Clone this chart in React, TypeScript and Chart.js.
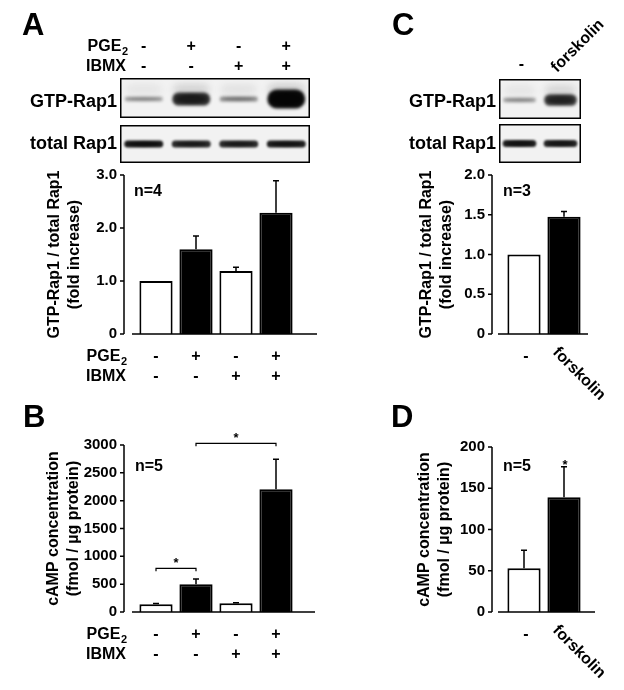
import React, { useEffect, useRef } from "react";
import { Chart, registerables } from "chart.js";

Chart.register(...registerables);

const FONT = '"Liberation Sans", Arial, Helvetica, sans-serif';

// ---------------- data ----------------
// Panel A : GTP-Rap1 / total Rap1 (fold increase)
const aPGE2 = ["-", "+", "-", "+"];
const aIBMX = ["-", "-", "+", "+"];
const aValues = [1.0, 1.6, 1.19, 2.29];
const aErrors = [0, 0.25, 0.07, 0.6];
const aYTicks = [0, 1, 2, 3];
const aN = "n=4";

// Panel B : cAMP concentration (fmol / µg protein)
const bPGE2 = ["-", "+", "-", "+"];
const bIBMX = ["-", "-", "+", "+"];
const bValues = [138, 497, 156, 2204];
const bErrors = [15, 96, 10, 540];
const bYTicks = [0, 500, 1000, 1500, 2000, 2500, 3000];
const bSigPairs = [[0, 1], [1, 3]];
const bSigLevels = [785, 3030];
const bN = "n=5";

// Panel C : GTP-Rap1 / total Rap1, forskolin
const cLabels = ["-", "forskolin"];
const cValues = [1.0, 1.476];
const cErrors = [0, 0.065];
const cYTicks = [0, 0.5, 1.0, 1.5, 2.0];
const cN = "n=3";

// Panel D : cAMP, forskolin
const dLabels = ["-", "forskolin"];
const dValues = [53, 139];
const dErrors = [22, 37];
const dYTicks = [0, 50, 100, 150, 200];
const dSig = [false, true];
const dN = "n=5";

// Western blot band intensities (0..1)
const aGtpBands = [0.35, 0.85, 0.42, 1.0];
const aTotalBands = [0.92, 0.85, 0.85, 0.9];
const cGtpBands = [0.35, 0.8];
const cTotalBands = [0.9, 0.88];

// ---------------- helpers ----------------
function subLabel(ctx: CanvasRenderingContext2D, main: string, sub: string, right: number, cy: number) {
  ctx.save();
  ctx.textBaseline = "middle";
  ctx.font = `bold 11px ${FONT}`;
  const sw = ctx.measureText(sub).width;
  ctx.textAlign = "left";
  ctx.fillText(sub, right - sw, cy + 5);
  ctx.font = `bold 16px ${FONT}`;
  ctx.textAlign = "right";
  ctx.fillText(main, right - sw - 0.5, cy);
  ctx.restore();
}

function drawBand(ctx: CanvasRenderingContext2D, cx: number, cy: number, w: number, h: number, a: number, blur: number) {
  ctx.save();
  ctx.filter = `blur(${blur}px)`;
  ctx.fillStyle = `rgba(10,10,10,${a})`;
  ctx.beginPath();
  (ctx as any).roundRect(cx - w / 2, cy - h / 2, w, h, h / 2);
  ctx.fill();
  ctx.fillStyle = `rgba(0,0,0,${a * 0.5})`;
  ctx.beginPath();
  ctx.ellipse(cx, cy, w * 0.4, h * 0.32, 0, 0, Math.PI * 2);
  ctx.fill();
  ctx.restore();
}

function drawBlot(ctx: CanvasRenderingContext2D, x: number, y: number, w: number, h: number, bands: number[], gtp: boolean) {
  ctx.save();
  ctx.fillStyle = "#f2f2f2";
  ctx.fillRect(x, y, w, h);
  ctx.beginPath();
  ctx.rect(x, y, w, h);
  ctx.clip();
  const lane = w / bands.length;
  bands.forEach((a, i) => {
    const cx = x + lane * (i + 0.5);
    if (gtp) {
      drawBand(ctx, cx, y + h * 0.28, lane * 0.8, h * 0.3, a * 0.1, 3);
      drawBand(ctx, cx, y + h * 0.5 + 1, lane * 0.8, 4 + 15 * a * a * a, a, 1.8);
    } else {
      drawBand(ctx, cx, y + h * 0.5, lane * 0.82, 7, a, 1.2);
    }
  });
  ctx.restore();
  ctx.strokeStyle = "#000";
  ctx.lineWidth = 1.5;
  ctx.strokeRect(x + 0.75, y + 0.75, w - 1.5, h - 1.5);
}

function drawDecorations(canvas: HTMLCanvasElement) {
  const ctx = canvas.getContext("2d")!;
  ctx.clearRect(0, 0, canvas.width, canvas.height);
  ctx.fillStyle = "#000";
  ctx.textBaseline = "alphabetic";
  ctx.textAlign = "left";
  ctx.font = `bold 31px ${FONT}`;
  ctx.fillText("A", 22, 35);
  ctx.fillText("B", 23, 427);
  ctx.fillText("C", 392, 35);
  ctx.fillText("D", 391, 427);

  // Panel A header
  const aBox = { x: 120, w: 190 };
  const aLane = aBox.w / aPGE2.length;
  subLabel(ctx, "PGE", "2", 128, 47);
  ctx.font = `bold 16px ${FONT}`;
  ctx.textAlign = "right";
  ctx.textBaseline = "middle";
  ctx.fillText("IBMX", 126, 67);
  ctx.textAlign = "center";
  aPGE2.forEach((s, i) => ctx.fillText(s, aBox.x + aLane * (i + 0.5), 47));
  aIBMX.forEach((s, i) => ctx.fillText(s, aBox.x + aLane * (i + 0.5), 67));

  drawBlot(ctx, 120, 78, 190, 40, aGtpBands, true);
  drawBlot(ctx, 120, 125, 190, 38, aTotalBands, false);
  ctx.fillStyle = "#000";
  ctx.font = `bold 18px ${FONT}`;
  ctx.textAlign = "right";
  ctx.textBaseline = "middle";
  ctx.fillText("GTP-Rap1", 117, 102);
  ctx.fillText("total Rap1", 117, 144);

  // Panel C header
  const cBox = { x: 499, w: 82 };
  const cLane = cBox.w / cLabels.length;
  ctx.font = `bold 16px ${FONT}`;
  ctx.textAlign = "center";
  ctx.fillText(cLabels[0], cBox.x + cLane * 0.5 + 2, 65);
  ctx.save();
  ctx.font = `bold 16px ${FONT}`;
  ctx.translate(557, 73);
  ctx.rotate(-Math.PI / 4);
  ctx.textAlign = "left";
  ctx.textBaseline = "alphabetic";
  ctx.fillText(cLabels[1], 0, 0);
  ctx.restore();

  drawBlot(ctx, 499, 79, 82, 40, cGtpBands, true);
  drawBlot(ctx, 499, 124, 82, 39, cTotalBands, false);
  ctx.fillStyle = "#000";
  ctx.font = `bold 18px ${FONT}`;
  ctx.textAlign = "right";
  ctx.textBaseline = "middle";
  ctx.fillText("GTP-Rap1", 496, 102);
  ctx.fillText("total Rap1", 496, 144);
}

type Panel = {
  labels: any[];
  values: number[];
  errors: number[];
  fills: string[];
  yTicks: number[];
  decimals: number;
  title: string[];
  w: number;
  h: number;
  aL: number;
  aT: number;
  aR: number;
  aB: number;
  titlePad: number;
  xPad: number;
  showX: boolean;
  ext: [number, number];
  nText: string;
  nDx: number;
  nDy: number;
  rowLabels?: boolean;
  rotLabels?: string[];
  extra?: (chart: any, ctx: CanvasRenderingContext2D) => void;
};

function makeBarChart(canvas: HTMLCanvasElement, p: Panel) {
  const plugin = {
    id: "sketchExtras",
    afterDatasetsDraw(chart: any) {
      const ctx: CanvasRenderingContext2D = chart.ctx;
      const ys = chart.scales.y;
      const xs = chart.scales.x;
      const area = chart.chartArea;
      const y0 = ys.getPixelForValue(0);
      const yTop = ys.getPixelForValue(p.yTicks[p.yTicks.length - 1]);
      const ax = area.left - 12;
      ctx.save();
      ctx.strokeStyle = "#000";
      ctx.fillStyle = "#000";
      ctx.lineWidth = 1.5;
      ctx.beginPath();
      ctx.moveTo(ax, yTop);
      ctx.lineTo(ax, y0);
      p.yTicks.forEach((v) => {
        const py = ys.getPixelForValue(v);
        ctx.moveTo(ax - 4, py);
        ctx.lineTo(ax, py);
      });
      ctx.moveTo(area.left + p.ext[0], y0);
      ctx.lineTo(area.right + p.ext[1], y0);
      ctx.stroke();

      const meta = chart.getDatasetMeta(0);
      ctx.beginPath();
      meta.data.forEach((bar: any, i: number) => {
        const e = p.errors[i];
        if (!e) return;
        const top = ys.getPixelForValue(p.values[i]);
        const end = ys.getPixelForValue(p.values[i] + e);
        ctx.moveTo(bar.x, top);
        ctx.lineTo(bar.x, end);
        ctx.moveTo(bar.x - 3, end);
        ctx.lineTo(bar.x + 3, end);
      });
      ctx.stroke();

      ctx.font = `bold 16px ${FONT}`;
      ctx.textAlign = "left";
      ctx.textBaseline = "middle";
      ctx.fillText(p.nText, area.left + p.nDx, area.top + p.nDy);

      if (p.rowLabels) {
        const r1 = area.bottom + p.xPad + 10;
        subLabel(ctx, "PGE", "2", area.left - 9, r1);
        ctx.font = `bold 16px ${FONT}`;
        ctx.textAlign = "right";
        ctx.textBaseline = "middle";
        ctx.fillText("IBMX", area.left - 10, r1 + 20);
      }
      if (p.rotLabels) {
        const x0 = xs.getPixelForValue(0);
        const x1 = xs.getPixelForValue(1);
        ctx.font = `bold 16px ${FONT}`;
        ctx.textAlign = "center";
        ctx.textBaseline = "middle";
        ctx.fillText(p.rotLabels[0], x0 + 2, y0 + 23);
        ctx.save();
        ctx.font = `bold 16px ${FONT}`;
        ctx.translate(x1 - 9, y0 + 16);
        ctx.rotate(Math.PI / 4);
        ctx.textAlign = "left";
        ctx.textBaseline = "middle";
        ctx.fillText(p.rotLabels[1], 0, 0);
        ctx.restore();
      }
      if (p.extra) p.extra(chart, ctx);
      ctx.restore();
    },
  };

  const tickFont = { family: FONT, size: 15, weight: "bold" as const, lineHeight: "20px" };
  const xTickFont = { family: FONT, size: 16, weight: "bold" as const, lineHeight: "20px" };
  return new Chart(canvas, {
    type: "bar",
    data: {
      labels: p.labels,
      datasets: [
        {
          data: p.values,
          backgroundColor: p.fills,
          borderColor: "#000",
          borderWidth: 2,
          barPercentage: 0.83,
          categoryPercentage: 1.0,
        },
      ],
    },
    options: {
      responsive: false,
      maintainAspectRatio: false,
      animation: false,
      devicePixelRatio: 1,
      events: [],
      layout: { padding: { left: 0, top: p.aT, right: p.w - p.aR, bottom: 0 } },
      plugins: { legend: { display: false }, tooltip: { enabled: false }, title: { display: false } },
      scales: {
        x: {
          type: "category",
          grid: { display: false, drawTicks: false },
          border: { display: false },
          ticks: {
            display: p.showX,
            autoSkip: false,
            maxRotation: 0,
            minRotation: 0,
            padding: p.xPad,
            color: "#000",
            font: xTickFont,
          },
          afterFit: (s: any) => {
            s.height = p.h - p.aB;
            s.paddingLeft = 0;
            s.paddingRight = 0;
          },
        },
        y: {
          type: "linear",
          min: p.yTicks[0],
          max: p.yTicks[p.yTicks.length - 1],
          grid: { display: false, drawTicks: false },
          border: { display: false },
          afterBuildTicks: (s: any) => {
            s.ticks = p.yTicks.map((v) => ({ value: v }));
          },
          ticks: {
            padding: 19,
            color: "#000",
            font: tickFont,
            callback: (v: any) => (Number(v) === 0 ? "0" : Number(v).toFixed(p.decimals)),
          },
          title: {
            display: true,
            text: p.title,
            color: "#000",
            font: { family: FONT, size: 16, weight: "bold", lineHeight: "20px" },
            padding: { top: p.titlePad, bottom: 0 },
          },
          afterFit: (s: any) => {
            s.width = p.aL;
            s.paddingTop = 0;
            s.paddingBottom = 0;
          },
        },
      },
    } as any,
    plugins: [plugin],
  });
}

const WHITE = "#ffffff";
const BLACK = "#000000";

export default function App() {
  const deco = useRef<HTMLCanvasElement>(null);
  const ra = useRef<HTMLCanvasElement>(null);
  const rb = useRef<HTMLCanvasElement>(null);
  const rc = useRef<HTMLCanvasElement>(null);
  const rd = useRef<HTMLCanvasElement>(null);

  useEffect(() => {
    drawDecorations(deco.current!);
    const charts = [
      makeBarChart(ra.current!, {
        labels: aPGE2.map((s, i) => [s, aIBMX[i]]),
        values: aValues,
        errors: aErrors,
        fills: aPGE2.map((s) => (s === "+" ? BLACK : WHITE)),
        yTicks: aYTicks,
        decimals: 1,
        title: ["GTP-Rap1 / total Rap1", "(fold increase)"],
        w: 320,
        h: 230,
        aL: 136,
        aT: 15,
        aR: 296,
        aB: 174,
        titlePad: 45,
        xPad: 13,
        showX: true,
        ext: [-4, 21],
        nText: aN,
        nDx: -2,
        nDy: 17,
        rowLabels: true,
      }),
      makeBarChart(rb.current!, {
        labels: bPGE2.map((s, i) => [s, bIBMX[i]]),
        values: bValues,
        errors: bErrors,
        fills: bPGE2.map((s) => (s === "+" ? BLACK : WHITE)),
        yTicks: bYTicks,
        decimals: 0,
        title: ["cAMP concentration", "(fmol / µg protein)"],
        w: 320,
        h: 260,
        aL: 136,
        aT: 15,
        aR: 296,
        aB: 182,
        titlePad: 44,
        xPad: 13,
        showX: true,
        ext: [-4, 19],
        nText: bN,
        nDx: -1,
        nDy: 22,
        rowLabels: true,
        extra: (chart, ctx) => {
          const xs = chart.scales.x;
          const ys = chart.scales.y;
          bSigPairs.forEach((pr, k) => {
            const x1 = xs.getPixelForValue(pr[0]);
            const x2 = xs.getPixelForValue(pr[1]);
            const yy = ys.getPixelForValue(bSigLevels[k]);
            ctx.lineWidth = 1.2;
            ctx.beginPath();
            ctx.moveTo(x1, yy + 3);
            ctx.lineTo(x1, yy);
            ctx.lineTo(x2, yy);
            ctx.lineTo(x2, yy + 3);
            ctx.stroke();
            ctx.font = `bold 13px ${FONT}`;
            ctx.textAlign = "center";
            ctx.textBaseline = "alphabetic";
            ctx.fillText("*", (x1 + x2) / 2, yy - 1);
          });
        },
      }),
      makeBarChart(rc.current!, {
        labels: cLabels,
        values: cValues,
        errors: cErrors,
        fills: cLabels.map((s, i) => (i === 0 ? WHITE : BLACK)),
        yTicks: cYTicks,
        decimals: 1,
        title: ["GTP-Rap1 / total Rap1", "(fold increase)"],
        w: 294,
        h: 240,
        aL: 174,
        aT: 15,
        aR: 254,
        aB: 174,
        titlePad: 87,
        xPad: 13,
        showX: false,
        ext: [-6, 4],
        nText: cN,
        nDx: -1,
        nDy: 17,
        rotLabels: cLabels,
      }),
      makeBarChart(rd.current!, {
        labels: dLabels,
        values: dValues,
        errors: dErrors,
        fills: dLabels.map((s, i) => (i === 0 ? WHITE : BLACK)),
        yTicks: dYTicks,
        decimals: 0,
        title: ["cAMP concentration", "(fmol / µg protein)"],
        w: 294,
        h: 260,
        aL: 174,
        aT: 17,
        aR: 254,
        aB: 182,
        titlePad: 85,
        xPad: 13,
        showX: false,
        ext: [-6, 11],
        nText: dN,
        nDx: -1,
        nDy: 20,
        rotLabels: dLabels,
        extra: (chart, ctx) => {
          const xs = chart.scales.x;
          const ys = chart.scales.y;
          dSig.forEach((sig, i) => {
            if (!sig) return;
            const x = xs.getPixelForValue(i);
            const yy = ys.getPixelForValue(dValues[i] + dErrors[i]);
            ctx.font = `bold 13px ${FONT}`;
            ctx.textAlign = "center";
            ctx.textBaseline = "alphabetic";
            ctx.fillText("*", x + 1, yy + 2);
          });
        },
      }),
    ];
    return () => charts.forEach((c) => c.destroy());
  }, []);

  const abs = (l: number, t: number, w: number, h: number): React.CSSProperties => ({
    position: "absolute",
    left: l,
    top: t,
    width: w,
    height: h,
  });

  return (
    <div style={{ position: "absolute", left: 0, top: 0, width: 624, height: 690, background: "#fff", overflow: "hidden" }}>
      <canvas ref={deco} width={624} height={690} style={abs(0, 0, 624, 690)} />
      <canvas ref={ra} width={320} height={230} style={abs(0, 160, 320, 230)} />
      <canvas ref={rb} width={320} height={260} style={abs(0, 430, 320, 260)} />
      <canvas ref={rc} width={294} height={240} style={abs(330, 160, 294, 240)} />
      <canvas ref={rd} width={294} height={260} style={abs(330, 430, 294, 260)} />
    </div>
  );
}
